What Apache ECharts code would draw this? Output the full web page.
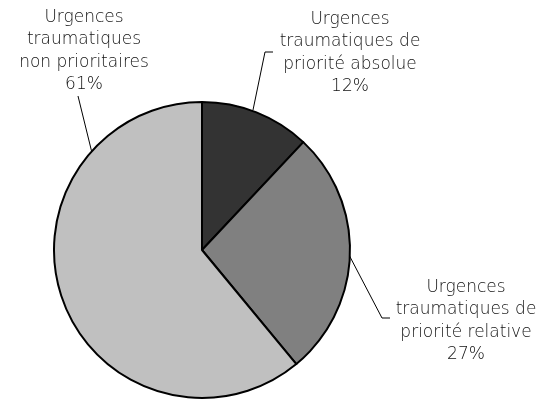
<!DOCTYPE html>
<html><head><meta charset="utf-8">
<script src="https://cdn.jsdelivr.net/npm/echarts@6/dist/echarts.min.js"></script>
<style>html,body{margin:0;padding:0;background:#fff}#c{width:553px;height:400px}</style>
</head><body><div id="c"></div>
<script>
const categories = [
  "Urgences\ntraumatiques de\npriorité absolue",
  "Urgences\ntraumatiques de\npriorité relative",
  "Urgences\ntraumatiques\nnon prioritaires"
];
const values = [12, 27, 61];
const colors = ["#333333", "#808080", "#c0c0c0"];

// label placement (styles only)
const labelPos = [
  {x: 350, y: 53, line: [[253,110],[265,52],[273,52]]},
  {x: 466, y: 321, line: [[348,253],[382,318],[390,318]]},
  {x: 84, y: 51, line: [[93,157],[78,96]]}
];

const chart = echarts.init(document.getElementById('c'));
chart.setOption({
  animation: false,
  series: [{
    type: 'pie',
    center: [202, 250],
    radius: 148,
    startAngle: 90,
    clockwise: true,
    avoidLabelOverlap: false,
    data: categories.map((n, i) => ({name: n, value: values[i], itemStyle: {color: colors[i]}})),
    itemStyle: {borderColor: '#000', borderWidth: 2},
    label: {
      show: true,
      formatter: p => p.name + '\n' + p.value + '%',
      fontFamily: 'DejaVu Sans',
      fontWeight: 200,
      fontSize: 17,
      lineHeight: 22.5,
      color: '#111',
      align: 'center',
      overflow: 'none'
    },
    labelLine: {show: true, lineStyle: {color: '#000', width: 1}},
    labelLayout: p => {
      const L = labelPos[p.dataIndex];
      return {x: L.x, y: L.y, align: 'center', verticalAlign: 'middle', labelLinePoints: L.line};
    },
    emphasis: {disabled: true}
  }]
});
</script></body></html>
